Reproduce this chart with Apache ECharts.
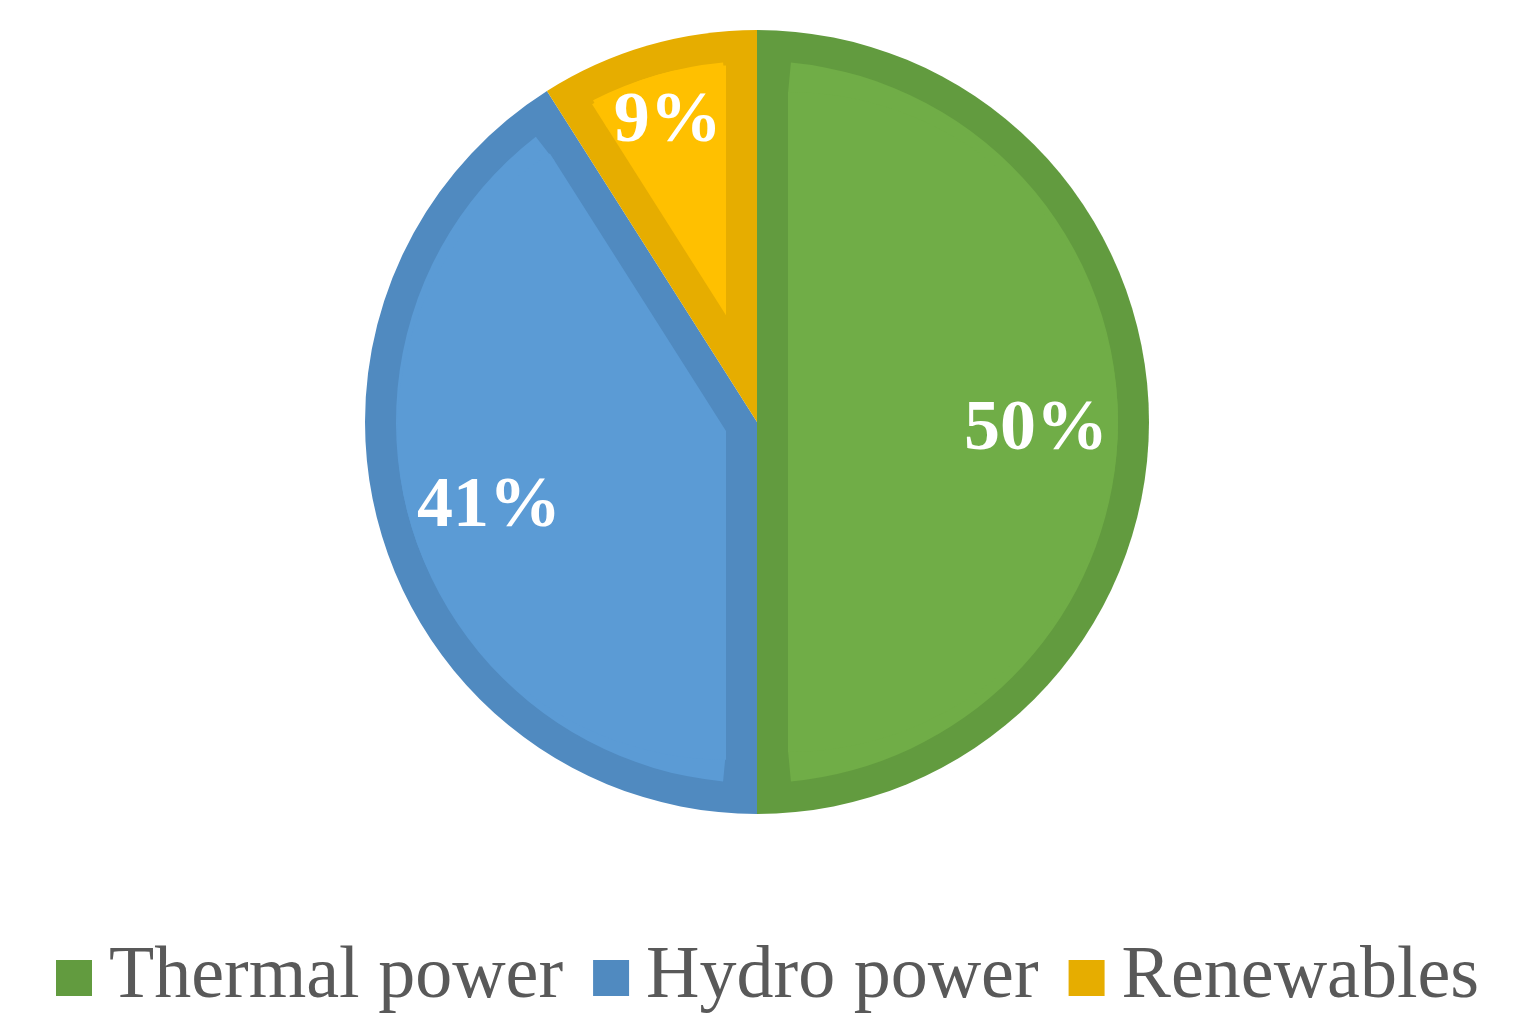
<!DOCTYPE html>
<html>
<head>
<meta charset="utf-8">
<title>Power mix</title>
<script src="https://cdn.jsdelivr.net/npm/echarts@6/dist/echarts.min.js"></script>
<style>
  html, body { margin: 0; padding: 0; background: #fff; }
  #main { width: 1518px; height: 1023px; }
</style>
</head>
<body>
<div id="main"></div>
<script>
var categories = ['Thermal power', 'Hydro power', 'Renewables'];
var values = [50, 41, 9];
var darkColors = ['#629B3F', '#508AC0', '#E6AD00'];
var lightColors = ['#70AD47', '#5B9BD5', '#FFC000'];

var chart = echarts.init(document.getElementById('main'));

var cx = 757, cy = 422;   // pie centre
var R = 392;              // outer radius
var band = 31;            // width of the darker rim

function pieData(colorFn) {
    return categories.map(function (name, i) {
        return { name: name, value: values[i], itemStyle: { color: colorFn(i) } };
    });
}

var common = {
    type: 'pie',
    silent: true,
    animation: false,
    startAngle: 90,
    clockwise: true,
    label: { show: false },
    labelLine: { show: false },
    emphasis: { disabled: true }
};

/* dark base */
var series = [
    Object.assign({}, common, {
        name: 'base',
        center: [cx, cy],
        radius: [0, R],
        data: pieData(function (i) { return darkColors[i]; })
    }),
    /* light outer band, kept off the radial edges by padAngle */
    Object.assign({}, common, {
        name: 'ring',
        center: [cx, cy],
        radius: [330, R - band],
        padAngle: 2 * Math.asin(band / 330) * 180 / Math.PI,
        data: pieData(function (i) { return lightColors[i]; })
    })
];

/* light inner part of each slice: same slice, apex pushed along its bisector */
var total = values.reduce(function (a, b) { return a + b; }, 0);
var acc = 0;
values.forEach(function (v, k) {
    var half = Math.PI * v / total;
    var mid = 2 * Math.PI * acc / total + half;
    acc += v;
    var s = band / Math.sin(Math.min(half, Math.PI / 2));
    series.push(Object.assign({}, common, {
        name: 'inner' + k,
        center: [cx + s * Math.sin(mid), cy - s * Math.cos(mid)],
        radius: [0, R - band - s],
        data: pieData(function (i) { return i === k ? lightColors[i] : 'rgba(0,0,0,0)'; })
    }));
});

/* percentage labels */
var labelStyle = {
    show: true,
    position: 'inside',
    formatter: '{p|{d}%}',
    rich: {
        p: {
            color: '#fff',
            fontFamily: 'Liberation Serif',
            fontWeight: 'bold',
            fontSize: 72,
            padding: [16, 0, 0, 0]
        }
    }
};
function labelData(show) {
    return categories.map(function (name, i) {
        return {
            name: name, value: values[i],
            itemStyle: { color: 'rgba(0,0,0,0)' },
            label: { show: show[i] }
        };
    });
}
series.push(Object.assign({}, common, {
    name: 'labelsA',
    center: [cx, cy],
    radius: [190, 362],
    label: labelStyle,
    data: labelData([true, true, false])
}));
series.push(Object.assign({}, common, {
    name: 'labelsB',
    center: [cx, cy],
    radius: [272, 362],
    label: labelStyle,
    data: labelData([false, false, true])
}));

var option = {
    backgroundColor: '#fff',
    legend: {
        data: categories,
        left: 51,
        top: 933,
        icon: 'rect',
        itemWidth: 36,
        itemHeight: 36,
        itemGap: 30,
        selectedMode: false,
        textStyle: {
            fontFamily: 'Liberation Serif',
            fontSize: 74,
            lineHeight: 80,
            color: '#595959',
            padding: [0, 0, 0, 12]
        }
    },
    series: series
};
chart.setOption(option);
window.onresize = chart.resize;
</script>
</body>
</html>
